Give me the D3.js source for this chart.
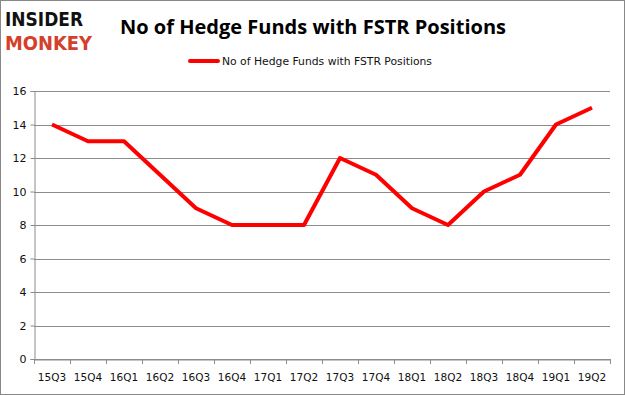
<!DOCTYPE html>
<html>
<head>
<meta charset="utf-8">
<script src="https://cdn.jsdelivr.net/npm/d3@7"></script>
<style>
  body { margin: 0; background: #fff; }
  svg { display: block; }
</style>
</head>
<body>
<div id="container"></div>
<script>
// data
let quarters = ["15Q3","15Q4","16Q1","16Q2","16Q3","16Q4","17Q1","17Q2","17Q3","17Q4","18Q1","18Q2","18Q3","18Q4","19Q1","19Q2"];
let funds = [14, 13, 13, 11, 9, 8, 8, 8, 12, 11, 9, 8, 10, 11, 14, 15];
let yTicks = [0, 2, 4, 6, 8, 10, 12, 14, 16];
let seriesName = "No of Hedge Funds with FSTR Positions";

let w = 625;
let h = 395;
let plotLeft = 34, plotRight = 610, plotTop = 91, plotBottom = 359;

let viz = d3.select("#container")
  .append("svg")
    .attr("width", w)
    .attr("height", h)
    .style("font-family", "'DejaVu Sans', sans-serif");

// outer frame
viz.append("rect")
  .attr("x", 0.5).attr("y", 0.5)
  .attr("width", w - 1).attr("height", h - 1)
  .attr("fill", "#fff")
  .attr("stroke", "#888");

// logo
viz.append("text")
  .attr("x", 5).attr("y", 26)
  .attr("font-family", "'DejaVu Sans', sans-serif")
  .attr("font-weight", "bold")
  .attr("font-size", 20)
  .attr("textLength", 78)
  .attr("lengthAdjust", "spacingAndGlyphs")
  .attr("fill", "#111")
  .text("INSIDER");
viz.append("text")
  .attr("x", 5).attr("y", 50)
  .attr("font-family", "'DejaVu Sans', sans-serif")
  .attr("font-weight", "bold")
  .attr("font-size", 20)
  .attr("textLength", 87)
  .attr("lengthAdjust", "spacingAndGlyphs")
  .attr("fill", "#d4402b")
  .text("MONKEY");

// title
viz.append("text")
  .attr("x", 313).attr("y", 34)
  .attr("text-anchor", "middle")
  .attr("font-family", "'Open Sans', sans-serif")
  .attr("font-weight", "bold")
  .attr("font-size", 19)
  .attr("textLength", 386)
  .attr("lengthAdjust", "spacingAndGlyphs")
  .attr("fill", "#000")
  .text("No of Hedge Funds with FSTR Positions");

// legend
viz.append("line")
  .attr("x1", 190).attr("x2", 218)
  .attr("y1", 61).attr("y2", 61)
  .attr("stroke", "#ff0000")
  .attr("stroke-width", 4)
  .attr("stroke-linecap", "round");
viz.append("text")
  .attr("x", 222).attr("y", 65)
  .attr("font-size", 11)
  .attr("textLength", 210)
  .attr("lengthAdjust", "spacingAndGlyphs")
  .attr("fill", "#111")
  .text(seriesName);

// scales
let xScale = d3.scaleBand().domain(quarters).range([plotLeft, plotRight]);
let yScale = d3.scaleLinear().domain([0, 16]).range([plotBottom, plotTop]);

// gridlines
viz.append("g")
  .selectAll("line")
  .data(yTicks)
  .enter()
  .append("line")
    .attr("x1", plotLeft).attr("x2", plotRight)
    .attr("y1", d => Math.round(yScale(d)) + 0.5)
    .attr("y2", d => Math.round(yScale(d)) + 0.5)
    .attr("stroke", "#8c8c8c")
    .attr("stroke-width", 1);

// y axis
let yAxis = d3.axisLeft(yScale).tickValues(yTicks).tickSize(4).tickPadding(4);
let yAxisGroup = viz.append("g")
  .attr("transform", "translate(" + (plotLeft + 0.5) + ",0)")
  .call(yAxis);

// x axis
let xAxis = d3.axisBottom(xScale).tickSize(0).tickPadding(14);
let xAxisGroup = viz.append("g")
  .attr("transform", "translate(0," + (Math.round(yScale(0)) + 0.5) + ")")
  .call(xAxis);

// x tick marks at band edges
viz.append("g")
  .selectAll("line")
  .data(d3.range(quarters.length + 1))
  .enter()
  .append("line")
    .attr("x1", i => Math.round(plotLeft + i * xScale.step()) + 0.5)
    .attr("x2", i => Math.round(plotLeft + i * xScale.step()) + 0.5)
    .attr("y1", Math.round(yScale(0)))
    .attr("y2", Math.round(yScale(0)) + 5)
    .attr("stroke", "#8c8c8c");

[yAxisGroup, xAxisGroup].forEach(g => {
  g.selectAll(".domain").attr("stroke", "#8c8c8c");
  g.selectAll(".tick line").attr("stroke", "#8c8c8c");
  g.selectAll("text")
    .attr("font-family", "'DejaVu Sans', sans-serif")
    .attr("font-size", 11)
    .attr("fill", "#111");
});
xAxisGroup.selectAll("text").attr("font-size", 10.5);

// the line
let line = d3.line()
  .x((d, i) => xScale(quarters[i]) + xScale.bandwidth() / 2)
  .y(d => yScale(d));

viz.append("path")
  .datum(funds)
  .attr("d", line)
  .attr("fill", "none")
  .attr("stroke", "#ff0000")
  .attr("stroke-width", 4)
  .attr("stroke-linejoin", "round");
</script>
</body>
</html>
